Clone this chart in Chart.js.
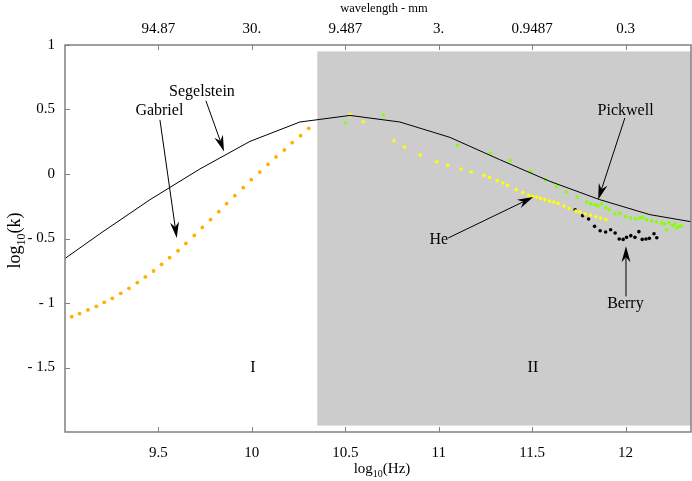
<!DOCTYPE html>
<html>
<head>
<meta charset="utf-8">
<script src="https://cdn.jsdelivr.net/npm/chart.js@4.4.1/dist/chart.umd.min.js"></script>
<style>
  html, body { margin: 0; padding: 0; background: #fff; }
  #wrap { width: 692px; height: 481px; }
</style>
</head>
<body>
<div id="wrap"><canvas id="grafico" width="692" height="481"></canvas></div>
<script>
// ---- datos (log10 Hz, log10 k) ----
const segelsteinX = [9.0, 9.187, 9.455, 9.722, 9.990, 10.257, 10.525, 10.792, 11.060, 11.327, 11.595, 11.862, 12.130, 12.35];
const segelsteinY = [-0.655, -0.463, -0.199, 0.039, 0.253, 0.403, 0.454, 0.403, 0.284, 0.111, -0.057, -0.199, -0.315, -0.370];

const gabrielX = [9.036, 9.078, 9.123, 9.168, 9.210, 9.253, 9.298, 9.342, 9.387, 9.430, 9.474, 9.517, 9.560, 9.605, 9.647,
                  9.692, 9.735, 9.779, 9.823, 9.865, 9.909, 9.954, 9.997, 10.042, 10.086, 10.129, 10.174, 10.216, 10.261, 10.304];
const gabrielY = [-1.106, -1.083, -1.054, -1.026, -0.995, -0.964, -0.925, -0.886, -0.842, -0.798, -0.752, -0.700, -0.649, -0.595, -0.538,
                  -0.476, -0.414, -0.354, -0.292, -0.230, -0.168, -0.106, -0.044, 0.015, 0.075, 0.132, 0.186, 0.243, 0.297, 0.354];

const heX = [10.525, 10.596, 10.760, 10.817, 10.901, 10.989, 11.048, 11.119, 11.174, 11.243, 11.272, 11.313, 11.343, 11.368, 11.415,
             11.450, 11.481, 11.502, 11.524, 11.545, 11.568, 11.593, 11.616, 11.639, 11.670, 11.698, 11.734, 11.755, 11.782, 11.813,
             11.841, 11.866, 11.894];
const heY = [0.460, 0.405, 0.258, 0.209, 0.147, 0.095, 0.067, 0.039, 0.015, -0.011, -0.026, -0.052, -0.070, -0.088, -0.122,
             -0.143, -0.166, -0.174, -0.179, -0.189, -0.199, -0.210, -0.217, -0.228, -0.248, -0.267, -0.287, -0.295, -0.310, -0.318,
             -0.331, -0.341, -0.352];

const pickwellX = [10.500, 10.703, 11.099, 11.276, 11.383, 11.492, 11.572, 11.631, 11.682, 11.740, 11.791, 11.814, 11.836, 11.852,
                   11.871, 11.894, 11.912, 11.943, 11.969, 12.000, 12.027, 12.053, 12.076, 12.091, 12.112, 12.139, 12.166, 12.193,
                   12.210, 12.219, 12.233, 12.251, 12.264, 12.273, 12.287, 12.300];
const pickwellY = [0.395, 0.457, 0.225, 0.163, 0.105, 0.020, -0.044, -0.096, -0.140, -0.178, -0.217, -0.230, -0.238, -0.248,
                   -0.233, -0.261, -0.277, -0.308, -0.305, -0.331, -0.341, -0.349, -0.341, -0.336, -0.354, -0.362, -0.370, -0.380,
                   -0.388, -0.432, -0.378, -0.401, -0.388, -0.419, -0.406, -0.401];

const berryX = [11.730, 11.770, 11.802, 11.834, 11.864, 11.893, 11.920, 11.944, 11.966, 11.987, 12.005, 12.028, 12.050, 12.071,
                12.089, 12.109, 12.127, 12.152, 12.167];
const berryY = [-0.277, -0.323, -0.349, -0.406, -0.440, -0.450, -0.432, -0.457, -0.504, -0.507, -0.491, -0.478, -0.491, -0.447,
                -0.507, -0.504, -0.499, -0.463, -0.494];

// ticks
const hzTicks = [9.5, 10, 10.5, 11, 11.5, 12];
const hzTickLabels = ['9.5', '10', '10.5', '11', '11.5', '12'];
const mmTickLabels = ['94.87', '30.', '9.487', '3.', '0.9487', '0.3'];
const kTicks = [1, 0.5, 0, -0.5, -1, -1.5];
const kTickLabels = ['1', '0.5', '0', '- 0.5', '- 1', '- 1.5'];

// region II (sombreada) y etiquetas de regiones
const regionIIX = [10.35, 12.35];
const regionIIY = [-1.95, 0.95];
const regionNames = ['I', 'II'];
const regionNameX = [10.006, 11.504];
const regionNameY = [-1.532, -1.532];

// anotaciones: texto + flecha (en unidades de datos)
const notaTexto = ['Segelstein', 'Gabriel', 'Pickwell', 'He', 'Berry'];
const notaX = [9.733, 9.505, 12.0, 11.0, 11.999];
const notaY = [0.607, 0.457, 0.460, -0.540, -1.039];
const flechaDesdeX = [9.754, 9.508, 11.996, 11.051, 12.002];
const flechaDesdeY = [0.568, 0.420, 0.434, -0.496, -0.949];
const flechaHastaX = [9.851, 9.598, 11.853, 11.506, 12.002];
const flechaHastaY = [0.175, -0.496, -0.199, -0.178, -0.561];

const SERIF = '"Liberation Serif", "DejaVu Serif", serif';

function pares(xs, ys) {
    return xs.map((x, i) => ({ x: x, y: ys[i] }));
}

// dibuja una flecha con punta rellena
function flecha(ctx, x1, y1, x2, y2) {
    const ang = Math.atan2(y2 - y1, x2 - x1);
    const largo = 16, ancho = 4.5, muesca = 11;
    ctx.beginPath();
    ctx.moveTo(x1, y1);
    ctx.lineTo(x2 - Math.cos(ang) * muesca, y2 - Math.sin(ang) * muesca);
    ctx.stroke();
    ctx.save();
    ctx.translate(x2, y2);
    ctx.rotate(ang);
    ctx.beginPath();
    ctx.moveTo(0, 0);
    ctx.lineTo(-largo, -ancho);
    ctx.lineTo(-muesca, 0);
    ctx.lineTo(-largo, ancho);
    ctx.closePath();
    ctx.fill();
    ctx.restore();
}

// texto tipo "log10(...)" con subindice, centrado en x
function textoSub(ctx, cx, cy, antes, sub, despues, size) {
    const fBase = size + 'px ' + SERIF;
    const fSub = Math.round(size * 0.68) + 'px ' + SERIF;
    ctx.font = fBase;
    const w1 = ctx.measureText(antes).width;
    const w3 = ctx.measureText(despues).width;
    ctx.font = fSub;
    const w2 = ctx.measureText(sub).width;
    let x = cx - (w1 + w2 + w3) / 2;
    ctx.textAlign = 'left';
    ctx.textBaseline = 'alphabetic';
    ctx.font = fBase;
    ctx.fillText(antes, x, cy);
    x += w1;
    ctx.font = fSub;
    ctx.fillText(sub, x, cy + size * 0.25);
    x += w2;
    ctx.font = fBase;
    ctx.fillText(despues, x, cy);
}

const adornos = {
    id: 'adornos',
    beforeDatasetsDraw(chart) {
        const { ctx, scales: { x, y } } = chart;
        const x1 = x.getPixelForValue(regionIIX[0]), x2 = x.getPixelForValue(regionIIX[1]);
        const y1 = y.getPixelForValue(regionIIY[1]), y2 = y.getPixelForValue(regionIIY[0]);
        ctx.save();
        ctx.fillStyle = '#cccccc';
        ctx.fillRect(x1, y1, x2 - x1, y2 - y1);
        ctx.restore();
    },
    afterDatasetsDraw(chart) {
        const { ctx, chartArea: a, scales: { x, y } } = chart;
        ctx.save();

        // marco del grafico
        ctx.strokeStyle = '#808080';
        ctx.lineWidth = 1.5;
        ctx.strokeRect(a.left, a.top, a.right - a.left, a.bottom - a.top);

        // marcas interiores
        ctx.lineWidth = 1;
        ctx.beginPath();
        hzTicks.forEach(v => {
            const px = Math.round(x.getPixelForValue(v)) + 0.5;
            ctx.moveTo(px, a.bottom); ctx.lineTo(px, a.bottom - 5);
            ctx.moveTo(px, a.top); ctx.lineTo(px, a.top + 5);
        });
        kTicks.forEach(v => {
            const py = Math.round(y.getPixelForValue(v)) + 0.5;
            ctx.moveTo(a.left, py); ctx.lineTo(a.left + 5, py);
        });
        ctx.stroke();

        ctx.fillStyle = '#000';
        ctx.strokeStyle = '#000';

        // nombres de regiones
        ctx.font = '16px ' + SERIF;
        ctx.textAlign = 'center';
        ctx.textBaseline = 'alphabetic';
        regionNames.forEach((t, i) => {
            ctx.fillText(t, x.getPixelForValue(regionNameX[i]), y.getPixelForValue(regionNameY[i]));
        });

        // anotaciones
        ctx.lineWidth = 1;
        notaTexto.forEach((t, i) => {
            ctx.font = '16px ' + SERIF;
            ctx.textAlign = 'center';
            ctx.fillText(t, x.getPixelForValue(notaX[i]), y.getPixelForValue(notaY[i]));
            flecha(ctx,
                x.getPixelForValue(flechaDesdeX[i]), y.getPixelForValue(flechaDesdeY[i]),
                x.getPixelForValue(flechaHastaX[i]), y.getPixelForValue(flechaHastaY[i]));
        });

        // titulos de ejes
        const cx = (a.left + a.right) / 2;
        ctx.font = '12.5px ' + SERIF;
        ctx.textAlign = 'center';
        ctx.textBaseline = 'alphabetic';
        ctx.fillText('wavelength - mm', cx + 6, 12);
        textoSub(ctx, cx + 4, 473, 'log', '10', '(Hz)', 15);

        ctx.save();
        ctx.translate(20, (a.top + a.bottom) / 2 + 2);
        ctx.rotate(-Math.PI / 2);
        textoSub(ctx, 0, 0, 'log', '10', '(k)', 18);
        ctx.restore();

        ctx.restore();
    }
};

const ctx = document.getElementById('grafico').getContext('2d');
const tickFont = { family: SERIF, size: 15 };

new Chart(ctx, {
    type: 'scatter',
    data: {
        datasets: [
            {
                label: 'Segelstein',
                data: pares(segelsteinX, segelsteinY),
                showLine: true,
                borderColor: '#000',
                borderWidth: 1,
                pointRadius: 0,
                tension: 0
            },
            {
                label: 'Gabriel',
                data: pares(gabrielX, gabrielY),
                backgroundColor: '#ffb000',
                borderWidth: 0,
                pointRadius: 1.9
            },
            {
                label: 'He',
                data: pares(heX, heY),
                backgroundColor: '#ffff00',
                borderWidth: 0,
                pointRadius: 1.8
            },
            {
                label: 'Pickwell',
                data: pares(pickwellX, pickwellY),
                backgroundColor: '#88ff00',
                borderWidth: 0,
                pointRadius: 1.8
            },
            {
                label: 'Berry',
                data: pares(berryX, berryY),
                backgroundColor: '#000',
                borderWidth: 0,
                pointRadius: 1.8
            }
        ]
    },
    options: {
        responsive: false,
        animation: false,
        layout: { autoPadding: false, padding: { left: 0, right: 1, top: 0, bottom: 0 } },
        plugins: {
            legend: { display: false },
            tooltip: { enabled: false }
        },
        scales: {
            x: {
                type: 'linear',
                position: 'bottom',
                min: 9,
                max: 12.35,
                afterBuildTicks: s => { s.ticks = hzTicks.map(v => ({ value: v })); },
                afterFit: s => { s.height = 49; },
                grid: { display: false, drawTicks: false },
                border: { display: false },
                ticks: {
                    padding: 12,
                    color: '#000',
                    font: tickFont,
                    maxRotation: 0,
                    autoSkip: false,
                    callback: (v, i) => hzTickLabels[i]
                }
            },
            x2: {
                type: 'linear',
                position: 'top',
                min: 9,
                max: 12.35,
                afterBuildTicks: s => { s.ticks = hzTicks.map(v => ({ value: v })); },
                afterFit: s => { s.height = 45; },
                grid: { display: false, drawTicks: false },
                border: { display: false },
                ticks: {
                    padding: 7,
                    color: '#000',
                    font: tickFont,
                    maxRotation: 0,
                    autoSkip: false,
                    callback: (v, i) => mmTickLabels[i]
                }
            },
            y: {
                type: 'linear',
                min: -2,
                max: 1,
                afterBuildTicks: s => { s.ticks = kTicks.map(v => ({ value: v })); },
                afterFit: s => { s.width = 65; },
                grid: { display: false, drawTicks: false },
                border: { display: false },
                ticks: {
                    padding: 10,
                    color: '#000',
                    font: tickFont,
                    autoSkip: false,
                    callback: (v, i) => kTickLabels[i]
                }
            }
        }
    },
    plugins: [adornos]
});
</script>
</body>
</html>
